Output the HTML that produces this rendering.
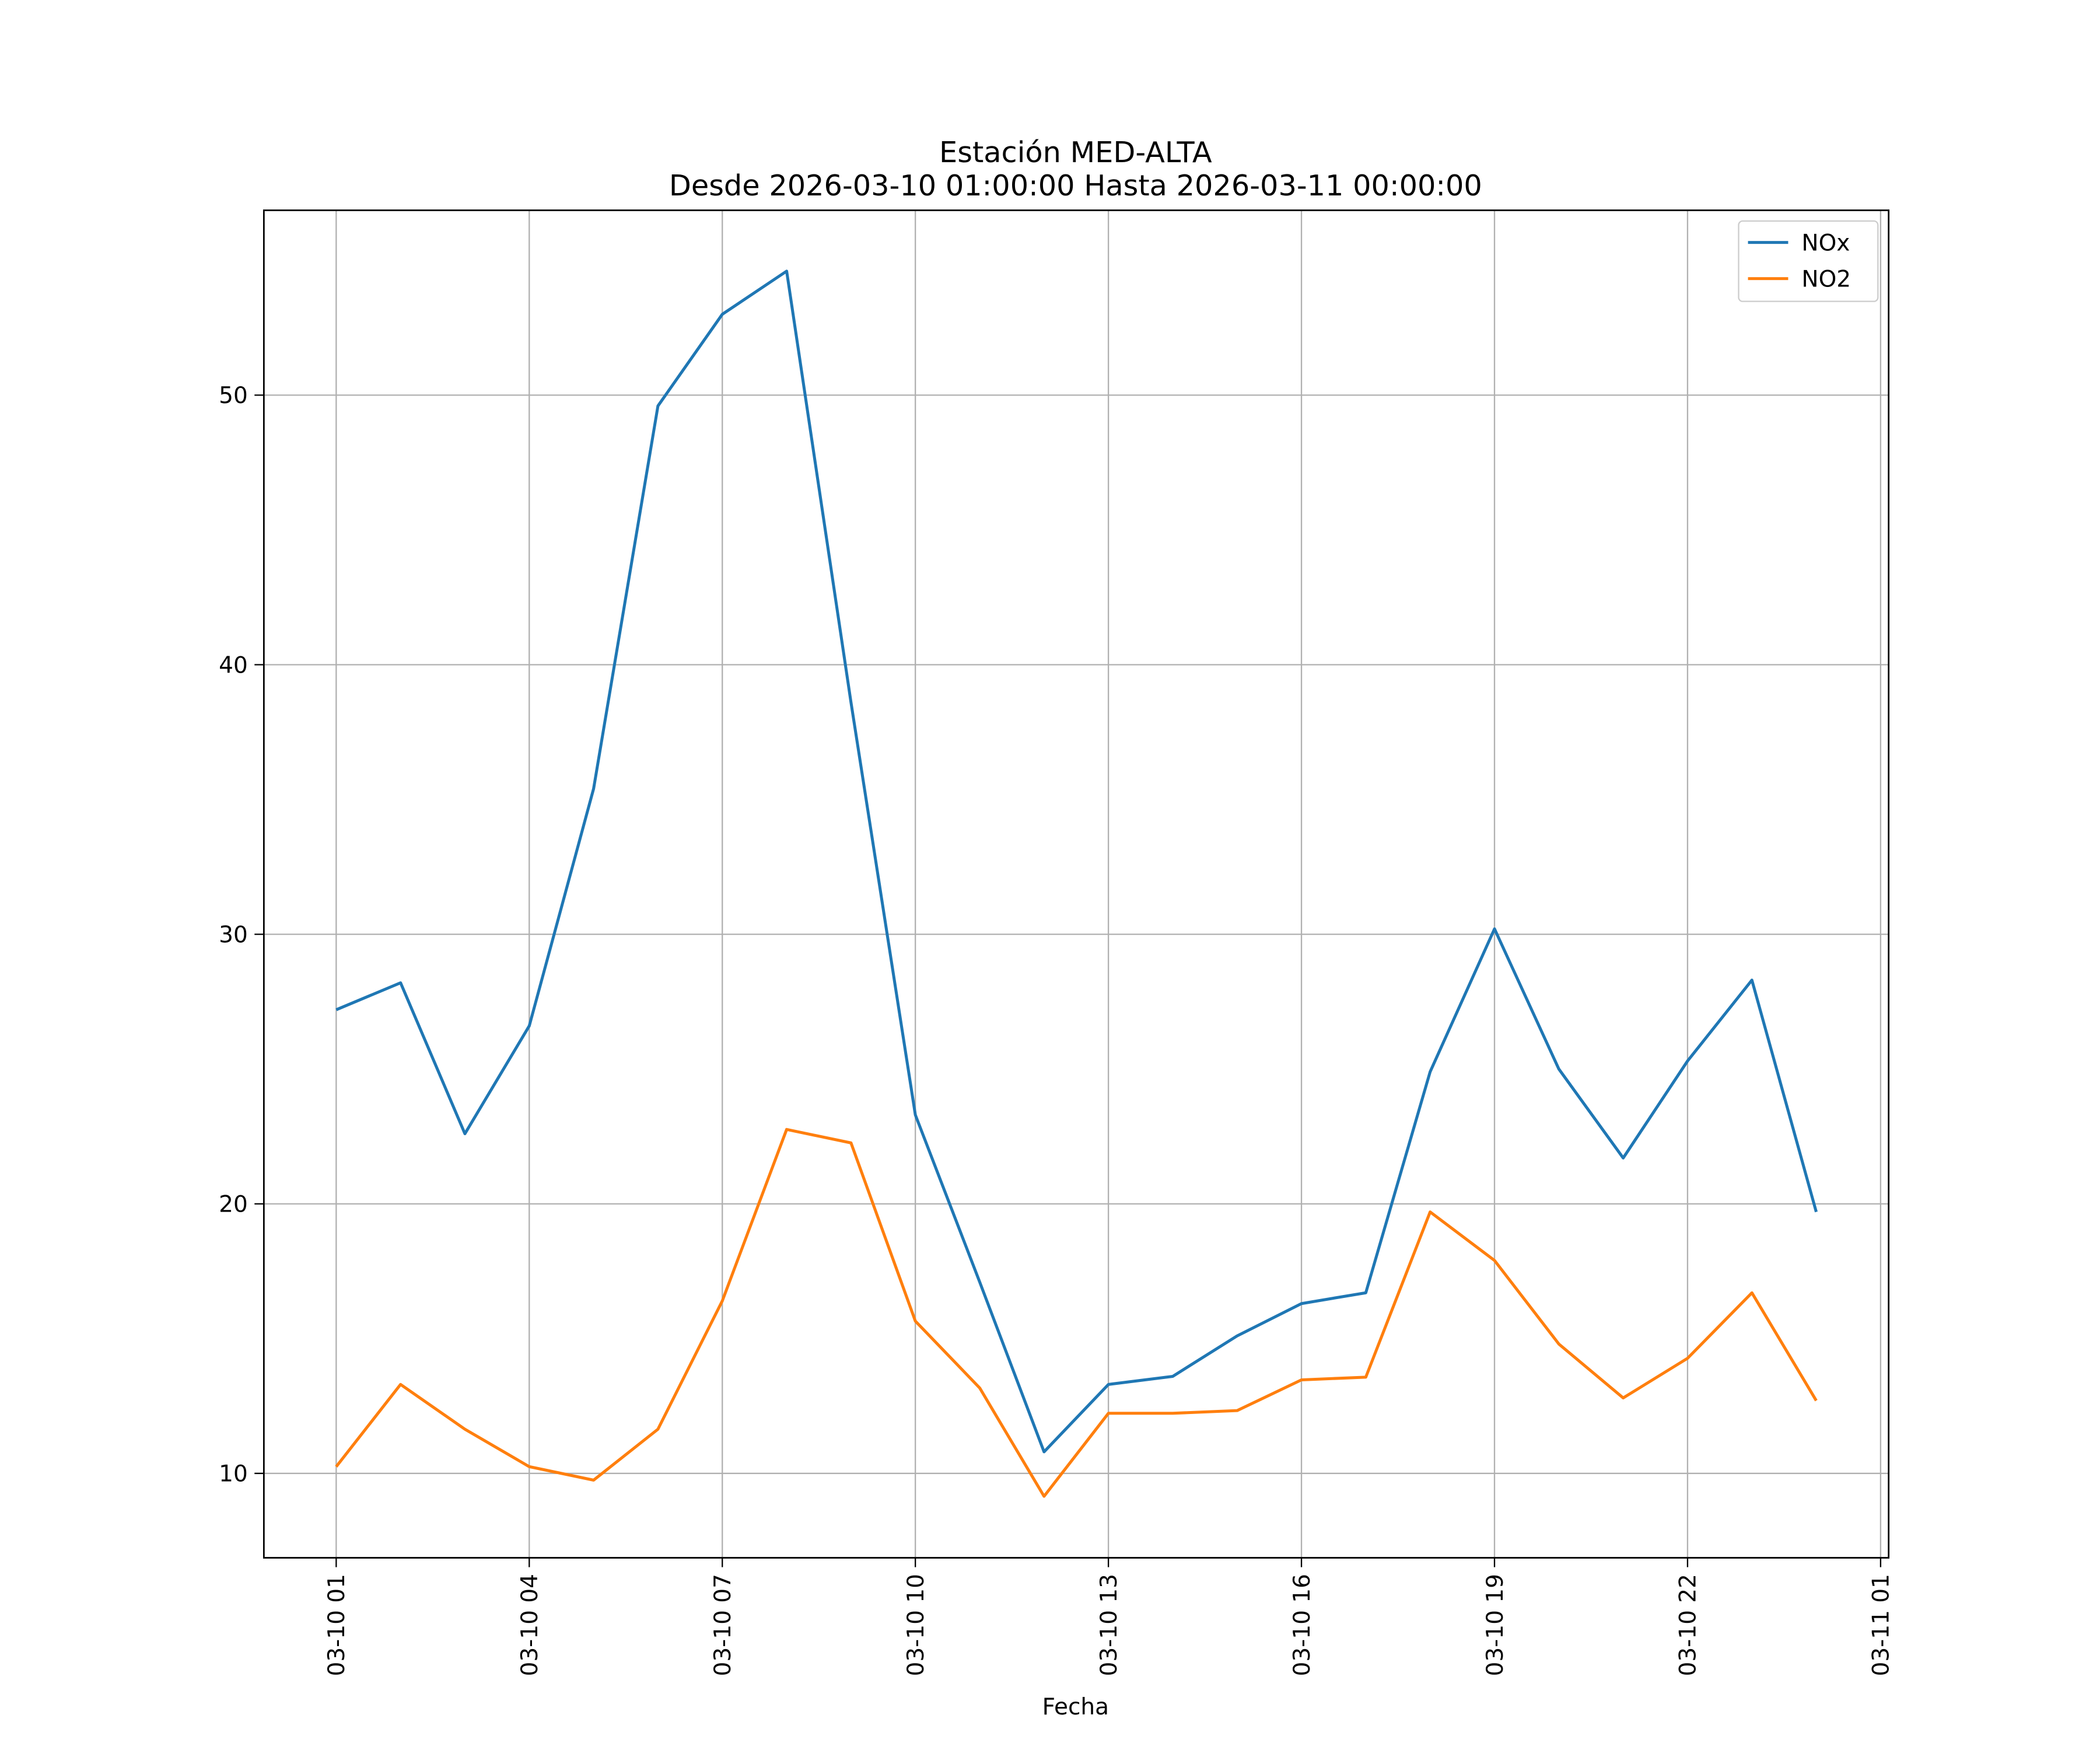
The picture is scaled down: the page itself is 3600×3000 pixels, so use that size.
<!DOCTYPE html>
<html><head><meta charset="utf-8"><style>html,body{margin:0;padding:0;background:#fff}svg{display:block}text{font-family:"DejaVu Sans","Liberation Sans",sans-serif;fill:#000}</style></head>
<body>
<svg id="chart" xmlns="http://www.w3.org/2000/svg" width="3600" height="3000" viewBox="0 0 1567.8 1306.5" preserveAspectRatio="none">
<rect width="1568" height="1307" fill="#fff"/>
<g id="grid"></g>
<g id="series"></g>
<rect x="197" y="157" width="1213" height="1006" fill="none" stroke="#000" stroke-width="1.2"/>
<g id="ticks"></g>
<text x="803" y="121" font-size="21.5" text-anchor="middle">Estación MED-ALTA</text>
<text x="803" y="146" font-size="21.5" text-anchor="middle">Desde 2026-03-10 01:00:00 Hasta 2026-03-11 00:00:00</text>
<text x="803" y="1280" font-size="17" text-anchor="middle">Fecha</text>
<g>
<rect x="1298" y="165" width="104" height="60" rx="3" fill="#fff" stroke="#ccc" stroke-width="1"/>
<line x1="1305" y1="181" x2="1335" y2="181" stroke="#1f77b4" stroke-width="2.2"/>
<text x="1345" y="187" font-size="17">NOx</text>
<line x1="1305" y1="208" x2="1335" y2="208" stroke="#ff7f0e" stroke-width="2.2"/>
<text x="1345" y="214" font-size="17">NO2</text>
</g>
</svg>
<script>
const hours=[1,2,3,4,5,6,7,8,9,10,11,12,13,14,15,16,17,18,19,20,21,22,23,24];
const noxValues=[27.2,28.2,22.6,26.6,35.4,49.6,53.0,54.6,38.6,23.3,17.1,10.8,13.3,13.6,15.1,16.3,16.7,24.9,30.2,25.0,21.7,25.3,28.3,19.7];
const no2Values=[10.25,13.3,11.64,10.25,9.75,11.64,16.4,22.76,22.26,15.65,13.17,9.15,12.23,12.23,12.33,13.47,13.57,19.7,17.9,14.8,12.8,14.27,16.7,12.7];
const xTickHours=[1,4,7,10,13,16,19,22,25];
const xTickLabels=["03-10 01","03-10 04","03-10 07","03-10 10","03-10 13","03-10 16","03-10 19","03-10 22","03-11 01"];
const yTicks=[10,20,30,40,50];
const NS="http://www.w3.org/2000/svg";
function xs(h){return 251+(h-1)*(1153/24);}
function ys(v){return 1301.25-v*20.125;}
function mk(t,a,p){const e=document.createElementNS(NS,t);for(const k in a)e.setAttribute(k,a[k]);p.appendChild(e);return e;}
const grid=document.getElementById('grid'),ticks=document.getElementById('ticks'),series=document.getElementById('series');
xTickHours.forEach((h,i)=>{const x=xs(h);
const g=mk('line',{x1:x,x2:x,y1:157,y2:1163,stroke:'#b0b0b0','stroke-width':1},grid);


const t=mk('line',{x1:x,x2:x,y1:1163,y2:1170,stroke:'#000','stroke-width':1},ticks);


const l=mk('text',{x:0,y:0,'font-size':17,'text-anchor':'end',transform:`translate(${x+6},1175) rotate(-90)`},ticks);
l.textContent=xTickLabels[i];

});
yTicks.forEach(v=>{const y=ys(v);
const g=mk('line',{x1:197,x2:1410,y1:y,y2:y,stroke:'#b0b0b0','stroke-width':1},grid);


const t=mk('line',{x1:190,x2:197,y1:y,y2:y,stroke:'#000','stroke-width':1},ticks);


const l=mk('text',{x:185,y:y+6,'font-size':17,'text-anchor':'end'},ticks);
l.textContent=v;

});
function line(vals,color,name){const p=mk('polyline',{points:vals.map((v,i)=>xs(hours[i])+','+ys(v)).join(' '),fill:'none',stroke:color,'stroke-width':2.2,'stroke-linejoin':'round'},series);

}
line(noxValues,'#1f77b4','nox-line');
line(no2Values,'#ff7f0e','no2-line');
</script>
</body></html>
